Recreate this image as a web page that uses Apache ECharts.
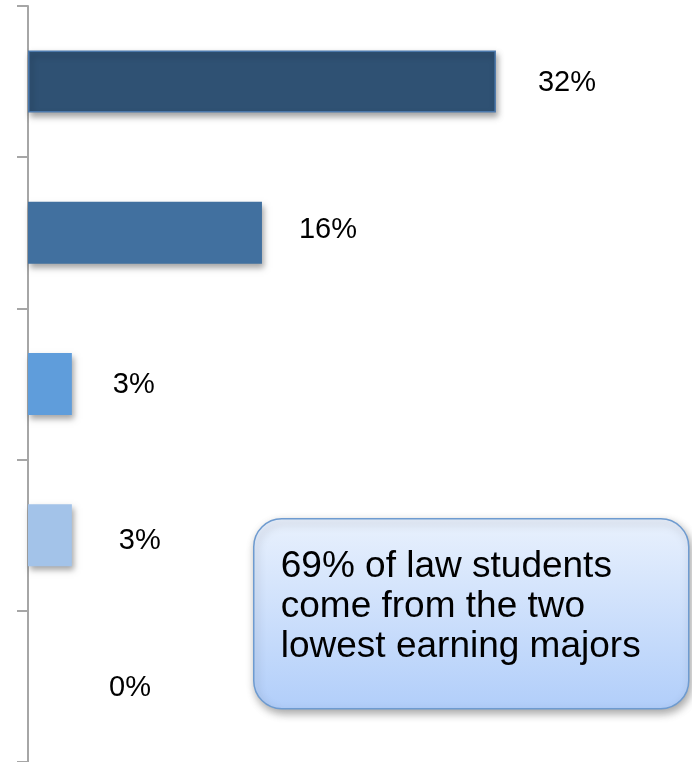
<!DOCTYPE html>
<html>
<head>
<meta charset="utf-8">
<script src="https://cdn.jsdelivr.net/npm/echarts@6/dist/echarts.min.js"></script>
<style>
  html, body { margin: 0; padding: 0; background: #ffffff; }
  #chart { width: 692px; height: 762px; }
</style>
</head>
<body>
<div id="chart"></div>
<script>
// Share of law students by undergraduate major group (top to bottom)
const categories = ['Group 1', 'Group 2', 'Group 3', 'Group 4', 'Group 5'];
const values = [32, 16, 3, 3, 0];
const valueLabels = ['32%', '16%', '3%', '3%', '0%'];
const barColors = ['#2f5173', '#41709f', '#5f9ddb', '#a3c3e9'];
const labelOffsets = [[42, 1], [37, -3], [41, 1], [47, 6], [81, 2]];
const calloutLines = ['69% of law students', 'come from the two', 'lowest earning majors'];

const chart = echarts.init(document.getElementById('chart'), null, { renderer: 'canvas' });

const seriesData = values.map((v, i) => ({
  value: v,
  itemStyle: {
    color: barColors[i % barColors.length],
    borderColor: i === 0 ? '#4b78ab' : barColors[i % barColors.length],
    borderWidth: i === 0 ? 1.5 : 0
  },
  label: {
    offset: labelOffsets[i],
    formatter: valueLabels[i]
  }
}));

chart.setOption({
  animation: false,
  backgroundColor: '#ffffff',
  grid: { left: 28, top: 6, width: 658, height: 760, containLabel: false },
  xAxis: {
    type: 'value',
    min: 0,
    max: 45,
    show: false
  },
  yAxis: {
    type: 'category',
    data: categories,
    inverse: true,
    axisLine: { show: true, lineStyle: { color: '#a6a6a6', width: 2 } },
    axisTick: { show: true, inside: false, length: 11, alignWithLabel: false, lineStyle: { color: '#a6a6a6', width: 2 } },
    axisLabel: { show: false },
    splitLine: { show: false }
  },
  series: [{
    type: 'bar',
    data: seriesData,
    barWidth: 62,
    itemStyle: {
      shadowColor: 'rgba(0,0,0,0.35)',
      shadowBlur: 6,
      shadowOffsetX: 2,
      shadowOffsetY: 4
    },
    label: {
      show: true,
      position: 'right',
      distance: 0,
      color: '#000000',
      fontFamily: 'Liberation Sans, Arial, sans-serif',
      fontSize: 29
    }
  }],
  graphic: [{
    type: 'group',
    left: 253,
    top: 518,
    children: [{
      type: 'rect',
      shape: { x: 0, y: 0, width: 435, height: 190, r: 28 },
      style: {
        fill: new echarts.graphic.LinearGradient(0, 0, 0, 1, [
          { offset: 0, color: '#e9f1fd' },
          { offset: 1, color: '#b1cefa' }
        ]),
        stroke: '#6e9bd0',
        lineWidth: 1.5,
        shadowColor: 'rgba(0,0,0,0.35)',
        shadowBlur: 8,
        shadowOffsetX: 2,
        shadowOffsetY: 4
      }
    }, {
      type: 'text',
      x: 27,
      y: 28,
      style: {
        text: calloutLines.join('\n'),
        fill: '#000000',
        font: '37px "Liberation Sans", Arial, sans-serif',
        lineHeight: 40
      }
    }]
  }]
});
</script>
</body>
</html>
